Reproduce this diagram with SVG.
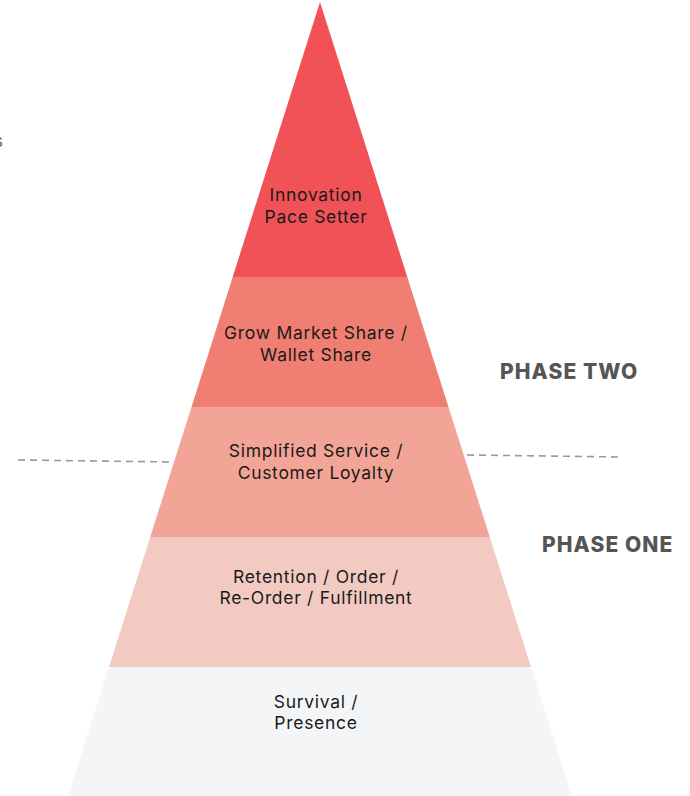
<svg xmlns="http://www.w3.org/2000/svg" width="690" height="796" viewBox="0 0 690 796">
<style>
.lbl{font-family:Inter,"Noto Sans","Liberation Sans",sans-serif;font-size:17.5px;letter-spacing:0.7px;fill:#1a1a1a;text-anchor:middle}
.phase{font-family:Inter,"Liberation Sans",sans-serif;font-size:21px;font-weight:800;fill:#555;letter-spacing:1.1px}
.dash{stroke:#999;stroke-width:1.6;stroke-dasharray:7 5;fill:none}
</style>
<rect width="690" height="796" fill="#fff"/>
<text x="-6" y="147" style="font-family:Inter,'Liberation Sans',sans-serif;font-size:17px;fill:#666">s</text>
<g id="connectors">
<line class="dash" x1="18" y1="460" x2="174" y2="462"/>
<line class="dash" x1="467" y1="455" x2="623" y2="457"/>
</g>
<g id="level5">
<polygon points="320,2 407.3,277 232.7,277" fill="#F05257"/>
<text class="lbl" x="316" y="201">Innovation</text>
<text class="lbl" x="316" y="223">Pace Setter</text>
</g>
<g id="level4">
<polygon points="232.7,277 407.3,277 448.5,407 191.5,407" fill="#F07E72"/>
<text class="lbl" x="316" y="339">Grow Market Share /</text>
<text class="lbl" x="316" y="361">Wallet Share</text>
</g>
<g id="level3">
<polygon points="191.5,407 448.5,407 489.8,537 150.2,537" fill="#F2A497"/>
<text class="lbl" x="316" y="457">Simplified Service /</text>
<text class="lbl" x="316" y="479">Customer Loyalty</text>
</g>
<g id="level2">
<polygon points="150.2,537 489.8,537 531,667 109,667" fill="#F3CAC2"/>
<text class="lbl" x="316" y="583">Retention / Order /</text>
<text class="lbl" x="316" y="604">Re-Order / Fulfillment</text>
</g>
<g id="level1">
<polygon points="109,667 531,667 572,796 68,796" fill="#F4F5F7"/>
<text class="lbl" x="316" y="708">Survival /</text>
<text class="lbl" x="316" y="729">Presence</text>
</g>
<g id="phase-two"><text class="phase" x="500" y="379">PHASE TWO</text></g>
<g id="phase-one"><text class="phase" x="542" y="552">PHASE ONE</text></g>
</svg>
